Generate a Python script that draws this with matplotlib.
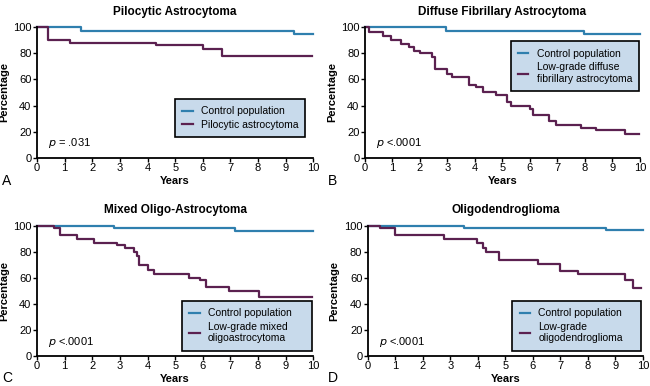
import matplotlib.pyplot as plt

plt.rcParams['font.family'] = ['Liberation Sans', 'DejaVu Sans']

BLUE = '#2f7fae'
PURPLE = '#5b2150'
BOX = '#c8daeb'

# panel A - pilocytic
a_ctrl_t = [0, 1.6, 9.3, 10]
a_ctrl_s = [100, 97, 95, 95]
a_tum_t = [0, 0.4, 1.2, 4.3, 6.0, 6.7, 9.95]
a_tum_s = [100, 90, 88, 86, 83, 78, 78]

# panel B - diffuse fibrillary
b_ctrl_t = [0, 2.95, 7.95, 10]
b_ctrl_s = [100, 97, 95, 95]
b_tum_t = [0, 0.15, 0.65, 0.95, 1.3, 1.6, 1.8, 2.0, 2.45, 2.55, 3.0, 3.15, 3.8,
           4.05, 4.3, 4.75, 5.15, 5.3, 6.0, 6.1, 6.7, 6.95, 7.85, 8.4, 9.45, 9.95]
b_tum_s = [100, 96, 93, 90, 87, 85, 82, 80, 77, 68, 64, 62, 56,
           54, 50, 48, 43, 40, 37, 33, 28, 25, 23, 21, 18, 18]

# panel C - mixed oligo-astrocytoma
c_ctrl_t = [0, 2.8, 7.15, 10]
c_ctrl_s = [100, 98, 96, 96]
c_tum_t = [0, 0.6, 0.82, 1.45, 2.05, 2.9, 3.2, 3.5, 3.6, 3.7, 4.0, 4.25, 5.5,
           5.9, 6.1, 6.95, 8.05, 9.95]
c_tum_s = [100, 98, 93, 90, 87, 85, 83, 80, 77, 70, 66, 63, 60,
           58, 53, 50, 45, 45]

# panel D - oligodendroglioma
d_ctrl_t = [0, 3.5, 8.65, 10]
d_ctrl_s = [100, 98, 97, 97]
d_tum_t = [0, 0.45, 1.0, 2.75, 3.95, 4.2, 4.3, 4.75, 6.2, 7.0, 7.65, 9.35, 9.65, 9.95]
d_tum_s = [100, 98, 93, 90, 87, 83, 80, 74, 71, 65, 63, 58, 52, 52]

titles = ['Pilocytic Astrocytoma', 'Diffuse Fibrillary Astrocytoma',
          'Mixed Oligo-Astrocytoma', 'Oligodendroglioma']
tumor_labels = ['Pilocytic astrocytoma', 'Low-grade diffuse\nfibrillary astrocytoma',
                'Low-grade mixed\noligoastrocytoma', 'Low-grade\noligodendroglioma']
p_texts = [r'$p$ = .031', r'$p$ <.0001', r'$p$ <.0001', r'$p$ <.0001']
letters = ['A', 'B', 'C', 'D']

panels = [
    (a_ctrl_t, a_ctrl_s, a_tum_t, a_tum_s),
    (b_ctrl_t, b_ctrl_s, b_tum_t, b_tum_s),
    (c_ctrl_t, c_ctrl_s, c_tum_t, c_tum_s),
    (d_ctrl_t, d_ctrl_s, d_tum_t, d_tum_s),
]

# axes rectangles (fig fraction) and legend boxes (axes fraction)
rects = [
    [0.057, 0.591, 0.425, 0.339],
    [0.5615, 0.591, 0.423, 0.339],
    [0.057, 0.078, 0.425, 0.337],
    [0.566, 0.078, 0.423, 0.337],
]
legend_boxes = [
    (0.50, 0.45, 0.47),
    (0.53, 0.89, 0.465),
    (0.525, 0.423, 0.47),
    (0.525, 0.423, 0.47),
]
letter_pos = [(0.003, 0.522), (0.505, 0.522), (0.003, 0.01), (0.505, 0.01)]

fig = plt.figure(figsize=(6.5, 3.86), dpi=100)

for i, (ct, cs, tt, ts) in enumerate(panels):
    ax = fig.add_axes(rects[i])
    ax.step(ct, cs, where='post', color=BLUE, lw=1.6, clip_on=False,
            label='Control population')
    ax.step(tt, ts, where='post', color=PURPLE, lw=1.6, clip_on=False,
            label=tumor_labels[i])
    ax.set_xlim(0, 10)
    ax.set_ylim(0, 100)
    ax.set_xticks(range(0, 11))
    ax.set_yticks(range(0, 101, 20))
    ax.tick_params(labelsize=8, length=3, width=1, direction='out', pad=1)
    for s in ['top', 'right']:
        ax.spines[s].set_visible(False)
    for s in ['left', 'bottom']:
        ax.spines[s].set_linewidth(1.3)
    ax.set_title(titles[i], fontsize=8.5, fontweight='bold', pad=9)
    ax.set_xlabel('Years', fontsize=8, fontweight='bold', labelpad=2)
    ax.set_ylabel('Percentage', fontsize=8, fontweight='bold', labelpad=3)
    ax.text(0.4, 11, p_texts[i], fontsize=8, ha='left', va='center')

    x0, ytop, w = legend_boxes[i]
    leg = ax.legend(loc='upper left', bbox_to_anchor=(x0, ytop, w, 0.0),
                    mode='expand', fontsize=7.5, frameon=True, fancybox=False,
                    edgecolor='black', facecolor=BOX, framealpha=1,
                    handlelength=1.0, handletextpad=0.8, borderpad=0.7,
                    labelspacing=0.35, borderaxespad=0)
    leg.get_frame().set_linewidth(1.2)
    fig.text(letter_pos[i][0], letter_pos[i][1], letters[i], fontsize=10)

fig.savefig('out.png', dpi=100)
